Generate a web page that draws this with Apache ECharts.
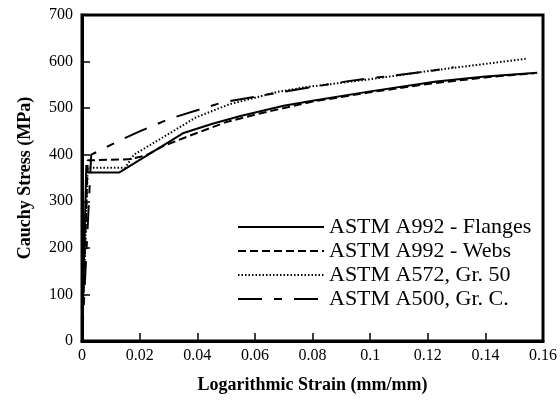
<!DOCTYPE html>
<html>
<head>
<meta charset="utf-8">
<script src="https://cdn.jsdelivr.net/npm/echarts@6/dist/echarts.min.js"></script>
<style>
  html, body { margin: 0; padding: 0; background: #fff; }
  #main { width: 560px; height: 403px; }
</style>
</head>
<body>
<div id="main"></div>
<script>
// values
var flangeStrain = [0, 0.0015, 0.002, 0.013, 0.035, 0.045, 0.055, 0.07, 0.08, 0.1, 0.123, 0.14, 0.158];
var flangeStress = [0, 378, 362, 362, 446, 466, 483, 505, 516, 536, 557, 568, 576];

var webStrain = [0, 0.002, 0.016, 0.022, 0.028, 0.037, 0.05, 0.06, 0.08, 0.1, 0.12, 0.14, 0.157];
var webStress = [0, 388, 390, 398, 418, 440, 470, 486, 514, 534, 552, 566, 575];

var a572Strain = [0, 0.002, 0.015, 0.018, 0.028, 0.0395, 0.051, 0.068, 0.0775, 0.1, 0.123, 0.14, 0.154];
var a572Stress = [0, 372, 372, 400, 437, 480, 508, 535, 545, 562, 582, 595, 606];

var a500Strain = [0, 0.0032, 0.01, 0.0135, 0.02, 0.0303, 0.0486, 0.0659, 0.0924, 0.1, 0.12, 0.129];
var a500Stress = [0, 400, 421, 432, 450, 477, 512, 531, 558, 564, 579, 588];

var seriesNames = ['ASTM A992 - Flanges', 'ASTM A992 - Webs', 'ASTM A572, Gr. 50', 'ASTM A500, Gr. C.'];

function pairs(xs, ys) {
  var out = [];
  for (var i = 0; i < xs.length; i++) {
    out.push([xs[i], ys[i]]);
  }
  return out;
}

var chart = echarts.init(document.getElementById('main'), null, { renderer: 'canvas' });
var font = '"Liberation Serif", "Times New Roman", serif';

function lineSeries(name, data, type) {
  return {
    name: name,
    type: 'line',
    data: data,
    symbol: 'none',
    color: '#000',
    animation: false,
    lineStyle: { color: '#000', width: 2, type: type, cap: 'butt' }
  };
}

var option = {
  backgroundColor: '#fff',
  animation: false,
  grid: {
    left: 82, right: 15, top: 15, bottom: 62,
    show: true, borderColor: '#000', borderWidth: 3
  },
  legend: {
    orient: 'vertical',
    left: 232, top: 211,
    itemWidth: 86, itemHeight: 14, itemGap: 2,
    itemStyle: { opacity: 0 },
    textStyle: { fontFamily: font, fontSize: 22, lineHeight: 22, color: '#000', padding: [0, 0, 0, 0] },
    data: seriesNames
  },
  xAxis: {
    type: 'value',
    min: 0, max: 0.16, interval: 0.02,
    name: 'Logarithmic Strain (mm/mm)',
    nameLocation: 'middle',
    nameGap: 35,
    nameTextStyle: { fontFamily: font, fontSize: 18, fontWeight: 'bold', color: '#000' },
    axisLine: { lineStyle: { color: '#000', width: 3 } },
    axisTick: { inside: true, length: 8, lineStyle: { color: '#000', width: 1.5 } },
    axisLabel: { fontFamily: font, fontSize: 16, color: '#000', margin: 7 },
    splitLine: { show: false }
  },
  yAxis: {
    type: 'value',
    min: 0, max: 700, interval: 100,
    name: 'Cauchy Stress (MPa)',
    nameLocation: 'middle',
    nameGap: 48,
    nameTextStyle: { fontFamily: font, fontSize: 18, fontWeight: 'bold', color: '#000' },
    axisLine: { lineStyle: { color: '#000', width: 3 } },
    axisTick: { inside: true, length: 8, lineStyle: { color: '#000', width: 1.5 } },
    axisLabel: { fontFamily: font, fontSize: 16, color: '#000', margin: 9 },
    splitLine: { show: false }
  },
  series: [
    lineSeries(seriesNames[0], pairs(flangeStrain, flangeStress), 'solid'),
    lineSeries(seriesNames[1], pairs(webStrain, webStress), [8, 4]),
    lineSeries(seriesNames[2], pairs(a572Strain, a572Stress), [1.5, 2]),
    lineSeries(seriesNames[3], pairs(a500Strain, a500Stress), [24, 12, 8, 12])
  ]
};

chart.setOption(option);
</script>
</body>
</html>
